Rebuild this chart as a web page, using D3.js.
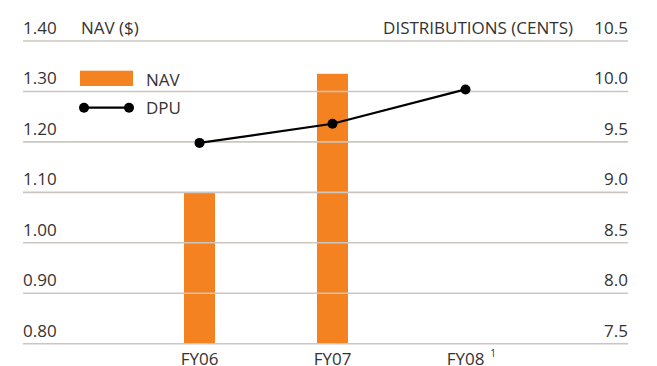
<!DOCTYPE html>
<html>
<head>
<meta charset="utf-8">
<script src="https://cdn.jsdelivr.net/npm/d3@7"></script>
<style>
  html, body { margin: 0; padding: 0; background: #fff; }
  svg { display: block; }
  text { font-family: "Open Sans", "Noto Sans", sans-serif; fill: #333; }
</style>
</head>
<body>
<svg id="chart" width="657" height="366"></svg>
<script>
// Fiscal years and the two series
const years = ["FY06", "FY07", "FY08"];
const navValues = [1.10, 1.335, null];     // NAV per unit ($)
const dpuValues = [9.49, 9.68, 10.02];     // distribution per unit (cents)

// Axis ticks
const navTicks = [0.80, 0.90, 1.00, 1.10, 1.20, 1.30, 1.40];
const dpuTicks = [7.5, 8.0, 8.5, 9.0, 9.5, 10.0, 10.5];

const svg = d3.select("#chart");
const plotLeft = 23, plotRight = 628, plotTop = 41, plotBottom = 343.7;

const x = d3.scalePoint().domain(years).range([199.5, 465.5]);
const yNav = d3.scaleLinear().domain([0.8, 1.4]).range([plotBottom, plotTop]);
const yDpu = d3.scaleLinear().domain([7.5, 10.5]).range([plotBottom, plotTop]);

const orange = "#f58220";
const grid = "#cbc6c1";
const barW = 31;

// NAV bars
svg.append("g").selectAll("rect")
  .data(years.map((yr, i) => ({ yr, v: navValues[i] })).filter(d => d.v != null))
  .join("rect")
  .attr("x", d => x(d.yr) - barW / 2)
  .attr("width", barW)
  .attr("y", d => yNav(d.v))
  .attr("height", d => yNav(0.8) - yNav(d.v))
  .attr("fill", orange);

// Gridlines sit over the bars
svg.append("g").selectAll("line")
  .data(navTicks)
  .join("line")
  .attr("x1", plotLeft).attr("x2", plotRight)
  .attr("y1", d => yNav(d)).attr("y2", d => yNav(d))
  .attr("stroke", grid)
  .attr("stroke-width", 1.6);

// Left tick labels (NAV)
svg.append("g").selectAll("text")
  .data(navTicks)
  .join("text")
  .attr("x", plotLeft)
  .attr("y", d => yNav(d) - 7)
  .attr("font-size", 17)
  .text(d => d.toFixed(2));

// Right tick labels (DPU)
svg.append("g").selectAll("text")
  .data(dpuTicks)
  .join("text")
  .attr("x", plotRight)
  .attr("y", d => yDpu(d) - 7)
  .attr("text-anchor", "end")
  .attr("font-size", 17)
  .text(d => d.toFixed(1));

// Axis titles
svg.append("text").attr("x", 81).attr("y", plotTop - 7).attr("font-size", 17).text("NAV ($)");
svg.append("text").attr("x", 573).attr("y", plotTop - 7).attr("font-size", 17)
  .attr("text-anchor", "end").text("DISTRIBUTIONS (CENTS)");

// DPU line and markers
const line = d3.line().x((d, i) => x(years[i])).y(d => yDpu(d));
svg.append("path")
  .datum(dpuValues)
  .attr("d", line)
  .attr("fill", "none")
  .attr("stroke", "#000")
  .attr("stroke-width", 2.2);
svg.append("g").selectAll("circle")
  .data(dpuValues)
  .join("circle")
  .attr("cx", (d, i) => x(years[i]))
  .attr("cy", d => yDpu(d))
  .attr("r", 5)
  .attr("fill", "#000");

// Category labels
const xl = svg.append("g");
years.forEach(yr => {
  const t = xl.append("text")
    .attr("x", x(yr))
    .attr("y", 364.5)
    .attr("text-anchor", "middle")
    .attr("font-size", 17)
    .text(yr);
  if (yr === "FY08") {
    const w = t.node().getComputedTextLength();
    xl.append("text")
      .attr("x", x(yr) + w / 2 + 6)
      .attr("y", 357)
      .attr("font-size", 10)
      .text("1");
  }
});

// Legend
const lg = svg.append("g");
lg.append("rect").attr("x", 80).attr("y", 70.7).attr("width", 53).attr("height", 15.3).attr("fill", orange);
lg.append("text").attr("x", 146).attr("y", 85.5).attr("font-size", 17).text("NAV");
lg.append("line").attr("x1", 84).attr("x2", 129).attr("y1", 107.7).attr("y2", 107.7)
  .attr("stroke", "#000").attr("stroke-width", 2.2);
[84, 129].forEach(cx => lg.append("circle").attr("cx", cx).attr("cy", 107.7).attr("r", 5).attr("fill", "#000"));
lg.append("text").attr("x", 146).attr("y", 113.5).attr("font-size", 17).text("DPU");
</script>
</body>
</html>
